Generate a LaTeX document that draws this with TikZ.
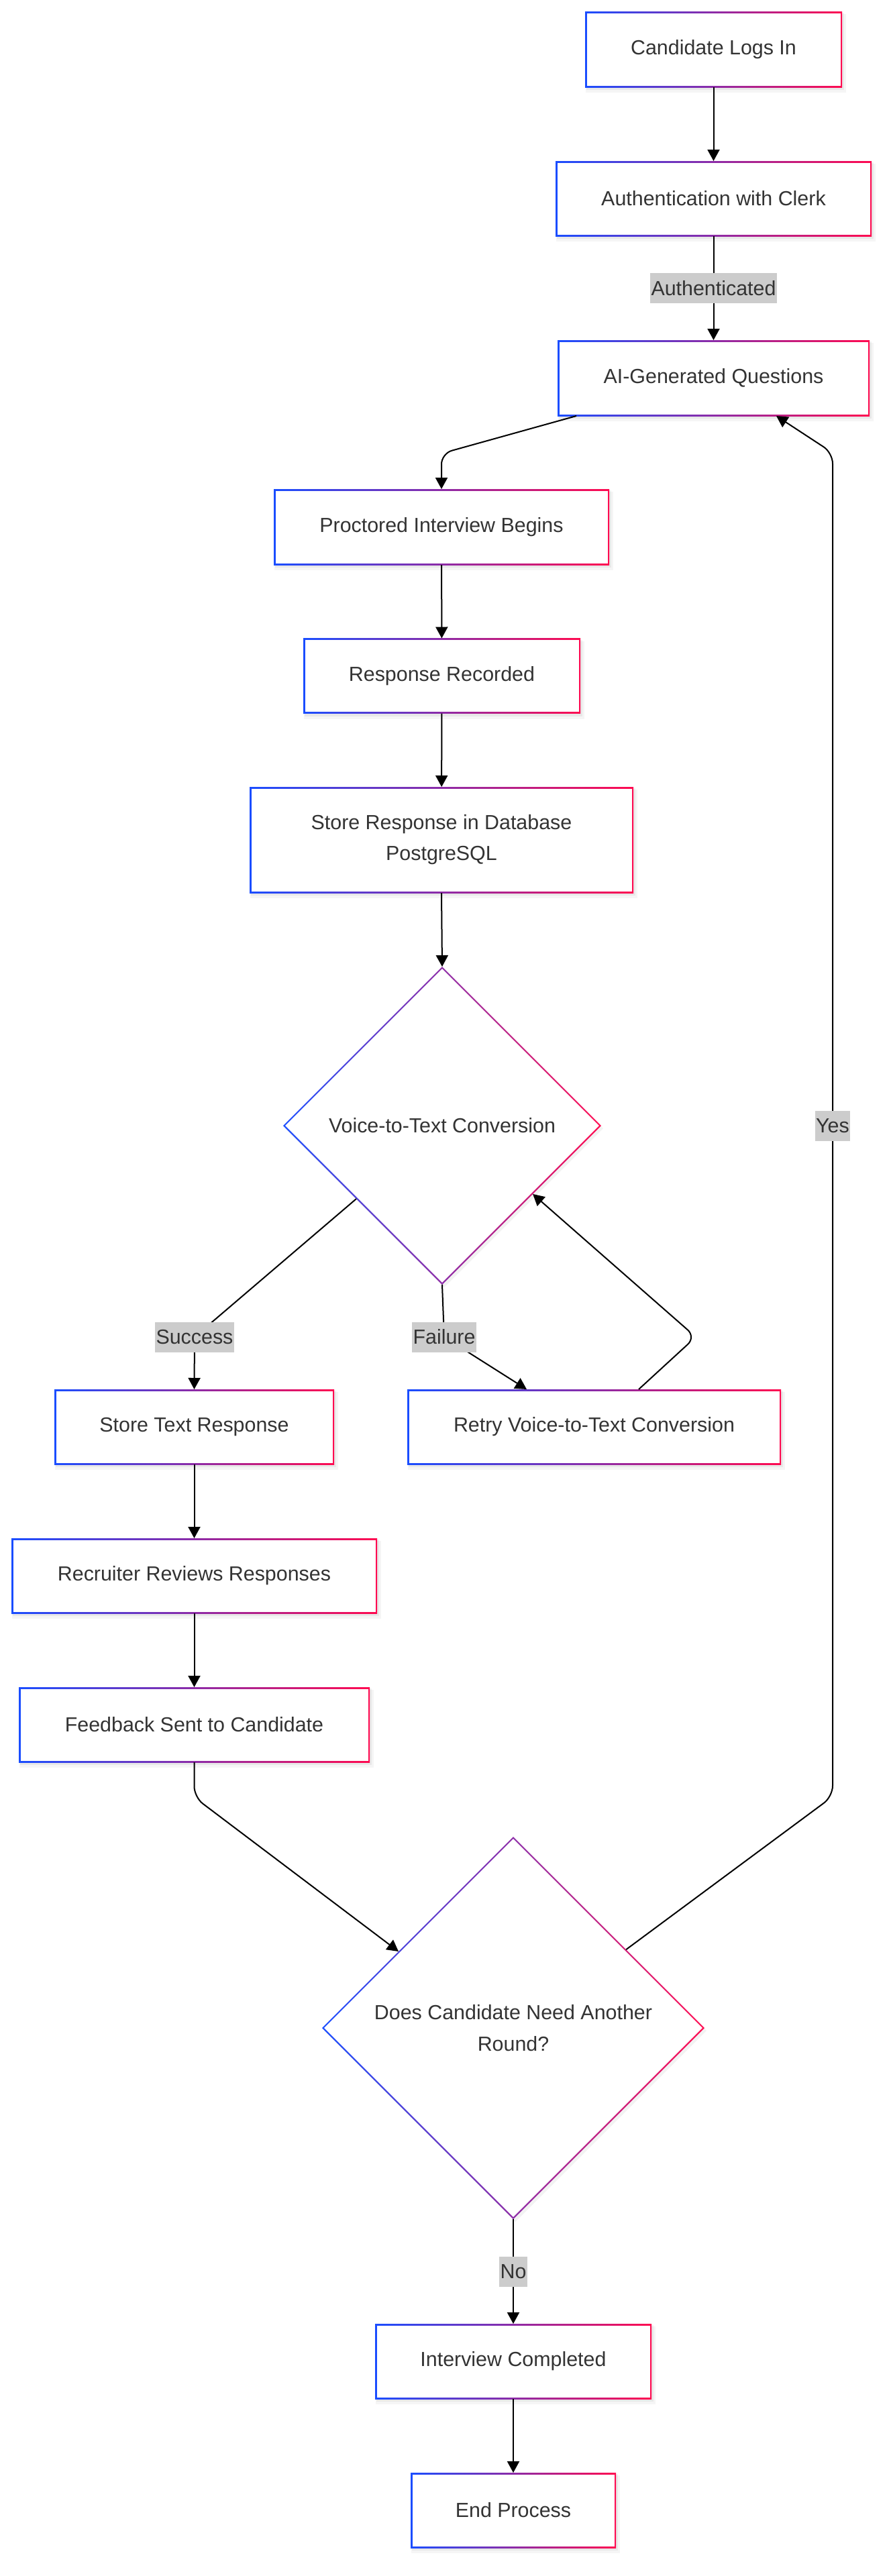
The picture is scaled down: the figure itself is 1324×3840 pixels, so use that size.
\documentclass[tikz,border=0pt]{standalone}
\usepackage{fontspec}
\setmainfont{Liberation Sans}
\usetikzlibrary{arrows.meta,shapes.geometric,calc}

\definecolor{gblue}{HTML}{1A4DFF}
\definecolor{gred}{HTML}{FF0A50}
\definecolor{txt}{HTML}{333333}
\definecolor{lblbg}{HTML}{CCCCCC}

\tikzset{
  boxnode/.style={fill=white, inner sep=0pt, outer sep=1.25pt, text=txt,
    font=\fontsize{15.2pt}{23pt}\selectfont, align=center},
  dianode/.style={diamond, aspect=1, inner sep=0pt, outer sep=0pt, text=txt,
    font=\fontsize{15.2pt}{23.5pt}\selectfont, align=center},
  lbl/.style={fill=lblbg, text=txt, inner xsep=0.6pt, inner ysep=0pt,
    minimum height=22.5pt, font=\fontsize{15.2pt}{18pt}\selectfont},
  arr/.style={draw=black, line width=1pt, rounded corners=8pt,
    -{Triangle[length=8.5pt,width=9pt]}},
}

% rectangle with a left-to-right gradient border and a soft shadow
% #1 name, #2 cx, #3 cy, #4 width, #5 height, #6 text (pixel units)
\newcommand{\gbox}[6]{%
  \fill[black, opacity=0.04] (#2-#4/2+1,#3-#5/2+4) rectangle (#2+#4/2+6,#3+#5/2+8);
  \fill[black, opacity=0.05] (#2-#4/2+2,#3-#5/2+2) rectangle (#2+#4/2+3,#3+#5/2+4);
  \shade[left color=gblue, right color=gred] (#2-#4/2,#3-#5/2) rectangle (#2+#4/2,#3+#5/2);
  \node[boxnode, minimum width={(#4-5)*0.5pt}, minimum height={(#5-5)*0.5pt}] (#1) at (#2,#3) {#6};
}

% decision diamond with the same gradient border
% #1 name, #2 cx, #3 cy, #4 half diagonal, #5 text
\newcommand{\gdia}[5]{%
  \fill[black, opacity=0.05] (#2+3,#3-#4+4) -- (#2+#4+3,#3+4) -- (#2+3,#3+#4+4) -- (#2-#4+3,#3+4) -- cycle;
  \shade[left color=gblue, right color=gred] (#2,#3-#4) -- (#2+#4,#3) -- (#2,#3+#4) -- (#2-#4,#3) -- cycle;
  \fill[white] (#2,#3-#4+3.2) -- (#2+#4-3.2,#3) -- (#2,#3+#4-3.2) -- (#2-#4+3.2,#3) -- cycle;
  \node[dianode, minimum width={#4*1pt}, minimum height={#4*1pt}] (#1) at (#2,#3) {#5};
}

\begin{document}
\begin{tikzpicture}[x=0.5pt, y=-0.5pt]
  \fill[white] (0,0) rectangle (1324,3840);
  \useasboundingbox (0,0) rectangle (1324,3840);

  % process steps
  \gbox{login}{1063.5}{73.5}{383}{113}{Candidate Logs In}
  \gbox{auth}{1063.5}{296}{471}{112}{Authentication with Clerk}
  \gbox{ai}{1063.5}{563.5}{465}{113}{AI-Generated Questions}
  \gbox{proc}{658}{785.5}{500}{113}{Proctored Interview Begins}
  \gbox{rec}{658.5}{1007.5}{413}{112}{Response Recorded}
  \gbox{store}{658}{1252}{572}{158}{Store Response in Database\\PostgreSQL}
  \gdia{v2t}{659}{1678}{237}{Voice-to-Text Conversion}
  \gbox{st}{289.5}{2127}{417}{112}{Store Text Response}
  \gbox{rt}{885.5}{2127}{557}{112}{Retry Voice-to-Text Conversion}
  \gbox{rr}{289.5}{2349}{545}{112}{Recruiter Reviews Responses}
  \gbox{fb}{289.5}{2571}{523}{112}{Feedback Sent to Candidate}
  \gdia{again}{765}{3023}{285}{Does Candidate Need Another\\Round?}
  \gbox{ic}{765}{3520}{412}{112}{Interview Completed}
  \gbox{ep}{765}{3742}{306}{112}{End Process}

  % label positions and bend points
  \coordinate (lauth) at (1063.5,429.5);
  \coordinate (lsucc) at (290,1993);
  \coordinate (lfail) at (662,1993);
  \coordinate (lyes) at (1241,1678);
  \coordinate (lno) at (765,3386);
  \coordinate (retrybend) at (1037,1993);
  \coordinate (yeslow) at (1241,2678);
  \coordinate (yeshigh) at (1241,675);

  % connectors
  \draw[arr] (login) -- (auth);
  \draw[arr] (auth) -- (lauth) -- (ai);
  \draw[arr] ($(ai.south west)+(28,0)$) -- ($(proc.north)+(0,-53)$) -- (proc.north);
  \draw[arr] (proc) -- (rec);
  \draw[arr] (rec) -- (store);
  \draw[arr] (store.south) -- (v2t.north);
  \draw[arr] ($(v2t.west)!0.46!(v2t.south)$) -- (lsucc) -- (st.north);
  \draw[arr] (v2t.south) -- (lfail) -- ($(rt.north west)+(178,0)$);
  \draw[arr] ($(rt.north west)+(345,0)$) -- (retrybend) -- ($(v2t.east)!0.43!(v2t.south)$);
  \draw[arr] (st) -- (rr);
  \draw[arr] (rr) -- (fb);
  \draw[arr] (fb.south) -- ($(fb.south)+(0,52)$) -- ($(again.north)!0.6!(again.west)$);
  \draw[arr] ($(again.north)!0.59!(again.east)$) -- (yeslow) -- (lyes) -- (yeshigh)
    -- ($(ai.south east)+(-139,0)$);
  \draw[arr] (again.south) -- (lno) -- (ic.north);
  \draw[arr] (ic) -- (ep);

  % edge labels
  \node[lbl] (tauth) at (lauth) {Authenticated};
  \node[lbl] (tsucc) at (lsucc) {Success};
  \node[lbl] (tfail) at (lfail) {Failure};
  \node[lbl] (tyes) at (lyes) {Yes};
  \node[lbl] (tno) at (lno) {No};
\end{tikzpicture}
\end{document}
